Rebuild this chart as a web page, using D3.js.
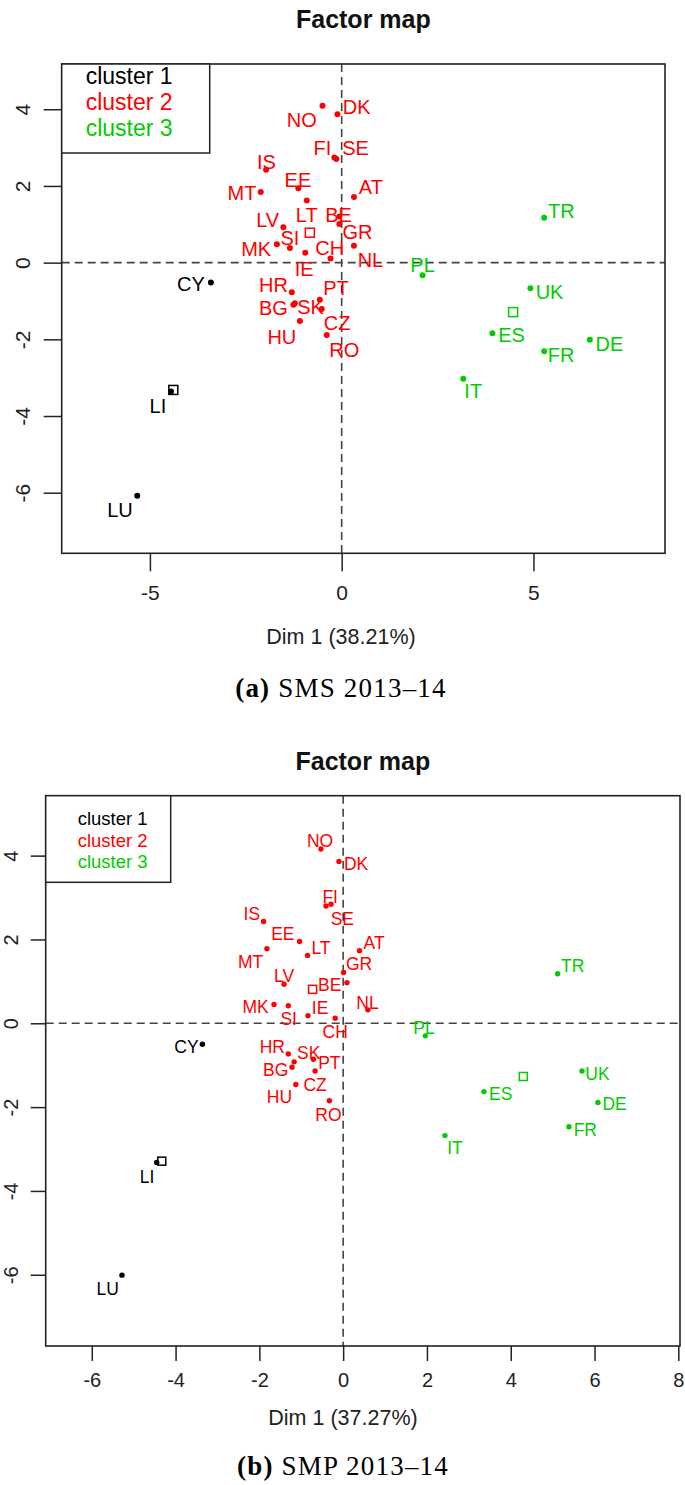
<!DOCTYPE html>
<html><head><meta charset="utf-8">
<script src="https://cdn.jsdelivr.net/npm/d3@7"></script>
<style>body{margin:0;background:#fff}svg{display:block}</style>
</head><body>
<svg id="chart" width="685" height="1485"></svg>
<script>
// ---------- data ----------
const countries = ["NO","DK","FI","SE","IS","EE","MT","LT","AT","BE","GR","LV","SI","MK","IE","CH","NL","HR","BG","SK","PT","CZ","RO","HU","CY","LI","LU","TR","PL","UK","ES","DE","FR","IT"];
const clusters  = [2,2,2,2,2,2,2,2,2,2,2,2,2,2,2,2,2,2,2,2,2,2,2,2,1,1,1,3,3,3,3,3,3,3];
const clusterNames = ["cluster 1","cluster 2","cluster 3"];

// (a) SMS 2013-14
const smsDim1 = [-0.50,-0.11,-0.19,-0.14,-1.97,-1.13,-2.11,-0.91,0.32,-0.06,-0.06,-1.52,-1.35,-1.69,-0.95,-0.29,0.32,-1.30,-1.26,-1.22,-0.57,-0.52,-0.39,-1.09,-3.41,-4.45,-5.33,5.28,2.11,4.92,3.93,6.47,5.28,3.17];
const smsDim2 = [4.09,3.87,2.74,2.70,2.42,1.94,1.84,1.62,1.71,1.20,1.01,0.92,0.38,0.48,0.26,0.11,0.44,-0.77,-1.10,-1.06,-0.97,-1.21,-1.89,-1.52,-0.52,-3.36,-6.08,1.17,-0.33,-0.67,-1.84,-2.01,-2.31,-3.03];
const smsLabelX = [-1.04,0.39,-0.50,0.36,-1.96,-1.14,-2.60,-0.91,0.76,-0.08,0.41,-1.93,-1.35,-2.23,-0.98,-0.31,0.75,-1.78,-1.78,-0.81,-0.15,-0.12,0.07,-1.56,-3.93,-4.79,-5.78,5.73,2.11,5.42,4.43,6.98,5.72,3.43];
const smsLabelY = [3.72,4.07,2.99,2.99,2.63,2.16,1.82,1.23,1.97,1.24,0.81,1.11,0.64,0.36,-0.16,0.38,0.07,-0.58,-1.18,-1.15,-0.66,-1.57,-2.28,-1.93,-0.55,-3.75,-6.45,1.35,-0.06,-0.76,-1.90,-2.12,-2.40,-3.36];
const smsCenterX = [-4.39,-0.83,4.47];
const smsCenterY = [-3.32,0.78,-1.29];
const smsXTicks = [-5,0,5];
const smsYTicks = [-6,-4,-2,0,2,4];

// (b) SMP 2013-14
const smpDim1 = [-0.53,-0.10,-0.41,-0.29,-1.90,-1.04,-1.82,-0.85,0.39,0.09,0.01,-1.41,-1.31,-1.65,-0.84,-0.19,0.59,-1.31,-1.22,-1.17,-0.71,-0.67,-0.33,-1.13,-3.36,-4.45,-5.28,5.12,1.96,5.70,3.36,6.08,5.39,2.43];
const smpDim2 = [4.16,3.86,2.80,2.84,2.43,1.95,1.78,1.62,1.73,0.97,1.21,0.93,0.42,0.45,0.18,0.12,0.32,-0.73,-1.05,-0.92,-0.86,-1.14,-1.85,-1.46,-0.50,-3.32,-6.01,1.18,-0.30,-1.14,-1.63,-1.89,-2.47,-2.68];
const smpLabelX = [-0.55,0.31,-0.31,-0.02,-2.18,-1.44,-2.21,-0.53,0.74,-0.32,0.38,-1.41,-1.30,-2.09,-0.55,-0.19,0.58,-1.69,-1.61,-0.82,-0.33,-0.67,-0.35,-1.52,-3.74,-4.68,-5.62,5.48,1.93,6.07,3.76,6.48,5.78,2.67];
const smpLabelY = [4.36,3.79,3.02,2.49,2.61,2.13,1.47,1.80,1.91,0.91,1.41,1.14,0.10,0.40,0.36,-0.20,0.49,-0.56,-1.11,-0.72,-0.94,-1.47,-2.19,-1.75,-0.56,-3.66,-6.35,1.37,-0.11,-1.21,-1.69,-1.93,-2.55,-2.98];
const smpCenterX = [-4.33,-0.73,4.30];
const smpCenterY = [-3.29,0.81,-1.27];
const smpXTicks = [-6,-4,-2,0,2,4,6,8];
const smpYTicks = [-6,-4,-2,0,2,4];

const colors = ["#000000","#FF0000","#00CD00"];

// ---------- drawing ----------
const svg = d3.select("#chart");
const SANS = "'Liberation Sans', Arial, sans-serif";
const SERIF = "'Liberation Serif', 'DejaVu Serif', serif";

function panel(o){
  const g = svg.append("g");
  const x = d3.scaleLinear().domain(o.xDom).range([o.left, o.right]);
  const y = d3.scaleLinear().domain(o.yDom).range([o.bottom, o.top]);

  // title
  g.append("text").attr("x", (o.left+o.right)/2).attr("y", o.titleY)
    .attr("text-anchor","middle").attr("font-family",SANS).attr("font-weight","bold")
    .attr("font-size",25).attr("fill","#111").text("Factor map");

  // dashed reference lines
  g.append("line").attr("x1",o.left).attr("x2",o.right).attr("y1",y(0)).attr("y2",y(0))
    .attr("stroke","#444").attr("stroke-width",1.6).attr("stroke-dasharray","8,5");
  g.append("line").attr("x1",x(0)).attr("x2",x(0)).attr("y1",o.top).attr("y2",o.bottom)
    .attr("stroke","#444").attr("stroke-width",1.6).attr("stroke-dasharray","8,5");

  // axes
  const ax = g.append("g").attr("transform",`translate(0,${o.bottom})`)
    .call(d3.axisBottom(x).tickValues(o.xTicks).tickSize(o.tick).tickSizeOuter(0).tickPadding(o.xPad).tickFormat(d3.format("d")));
  ax.select(".domain").remove();
  ax.selectAll("line").attr("stroke","#222").attr("stroke-width",1.5);
  ax.selectAll("text").attr("font-family",SANS).attr("font-size",o.tickFont).attr("fill","#222")
    .text(d => d < 0 ? "-" + Math.abs(d) : d);

  const ay = g.append("g").attr("transform",`translate(${o.left},0)`)
    .call(d3.axisLeft(y).tickValues(o.yTicks).tickSize(o.tick).tickSizeOuter(0).tickFormat(d3.format("d")));
  ay.select(".domain").remove();
  ay.selectAll("line").attr("stroke","#222").attr("stroke-width",1.5);
  ay.selectAll("text").attr("font-family",SANS).attr("font-size",o.tickFont).attr("fill","#222")
    .attr("x",null).attr("dy",null).attr("text-anchor","middle")
    .attr("transform", `translate(${o.yLabX - o.left},0) rotate(-90)`)
    .text(d => d < 0 ? "-" + Math.abs(d) : d);

  // box
  g.append("rect").attr("x",o.left).attr("y",o.top).attr("width",o.right-o.left).attr("height",o.bottom-o.top)
    .attr("fill","none").attr("stroke","#222").attr("stroke-width",1.6);

  // legend
  g.append("rect").attr("x",o.left).attr("y",o.top).attr("width",o.legW).attr("height",o.legH)
    .attr("fill","#fff").attr("stroke","#222").attr("stroke-width",1.5);
  g.selectAll(".leg").data(clusterNames).join("text")
    .attr("x", o.left + o.legTextX).attr("y",(d,i)=> o.top + o.legY0 + i*o.legDy)
    .attr("font-family",SANS).attr("font-size",o.legFont).attr("fill",(d,i)=>colors[i])
    .attr("dominant-baseline","central").text(d=>d);

  // points
  const idx = d3.range(countries.length);
  g.selectAll(".pt").data(idx).join("circle")
    .attr("cx", i => x(o.d1[i])).attr("cy", i => y(o.d2[i])).attr("r", o.r)
    .attr("fill", i => colors[clusters[i]-1]);
  // cluster centres
  g.selectAll(".ctr").data([0,1,2]).join("rect")
    .attr("x", i => x(o.cx[i]) - o.sq/2).attr("y", i => y(o.cy[i]) - o.sq/2)
    .attr("width",o.sq).attr("height",o.sq).attr("fill","none")
    .attr("stroke", i => colors[i]).attr("stroke-width",1.5);
  // labels
  g.selectAll(".lab").data(idx).join("text")
    .attr("x", i => x(o.lx[i])).attr("y", i => y(o.ly[i]))
    .attr("text-anchor","middle").attr("dominant-baseline","central")
    .attr("font-family",SANS).attr("font-size",o.labFont)
    .attr("fill", i => colors[clusters[i]-1]).text(i => countries[i]);

  // axis title
  g.append("text").attr("x",o.dimX).attr("y",o.dimY).attr("text-anchor","middle")
    .attr("dominant-baseline","central").attr("font-family",SANS).attr("font-size",o.dimFont)
    .attr("fill","#222").text(o.dimLabel);
  // caption
  const cap = g.append("text").attr("x",o.dimX).attr("y",o.capY).attr("text-anchor","middle")
    .attr("dominant-baseline","central").attr("font-family",SERIF).attr("font-size",o.capFont)
    .attr("letter-spacing",1.2).attr("fill","#000");
  cap.append("tspan").attr("font-weight","bold").text(o.capTag);
  cap.append("tspan").text(" " + o.capText);
}

panel({
  xDom:[-7.30,8.43], yDom:[-7.58,5.18], left:61.7, right:665, top:64, bottom:553.3,
  titleY:28, xTicks:smsXTicks, yTicks:smsYTicks, tick:18, xPad:14, tickFont:21, yLabX:30,
  legW:148, legH:89, legTextX:24, legY0:12, legDy:26, legFont:23,
  d1:smsDim1, d2:smsDim2, lx:smsLabelX, ly:smsLabelY, cx:smsCenterX, cy:smsCenterY,
  r:3, sq:9, labFont:20,
  dimX:341, dimY:637, dimFont:21.5, dimLabel:"Dim 1 (38.21%)",
  capY:688, capFont:27, capTag:"(a)", capText:"SMS 2013–14"
});
panel({
  xDom:[-7.10,8.04], yDom:[-7.70,5.43], left:45.7, right:680, top:795.7, bottom:1346,
  titleY:770, xTicks:smpXTicks, yTicks:smpYTicks, tick:15, xPad:12, tickFont:20, yLabX:18,
  legW:125, legH:86.6, legTextX:32, legY0:23, legDy:21.5, legFont:18.5,
  d1:smpDim1, d2:smpDim2, lx:smpLabelX, ly:smpLabelY, cx:smpCenterX, cy:smpCenterY,
  r:2.7, sq:8, labFont:17.5,
  dimX:343, dimY:1418, dimFont:21.5, dimLabel:"Dim 1 (37.27%)",
  capY:1466, capFont:27, capTag:"(b)", capText:"SMP 2013–14"
});
</script>
</body></html>
